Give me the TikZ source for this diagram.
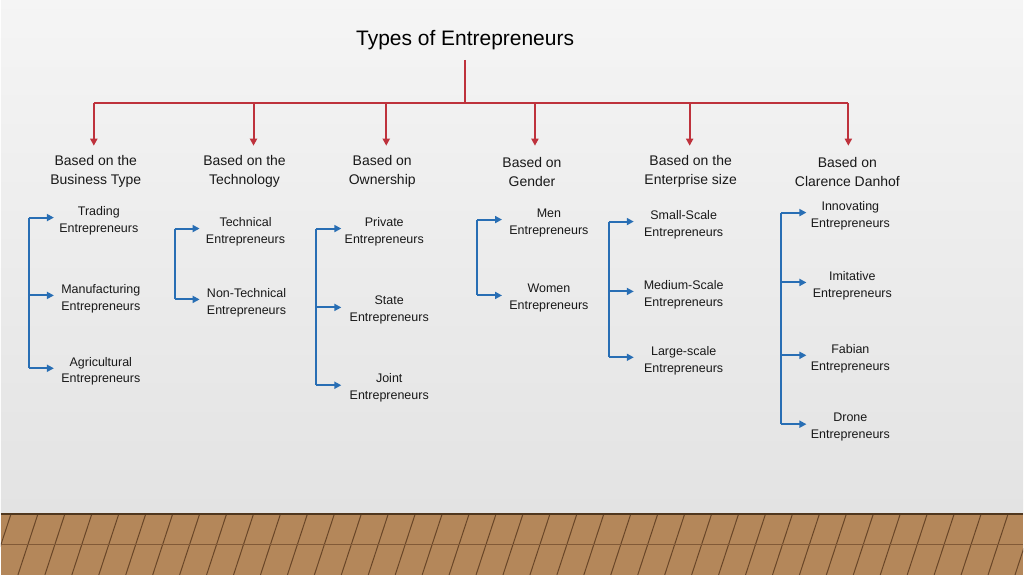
\documentclass[tikz,border=0pt]{standalone}
\usepackage{fontspec}
\setmainfont{Liberation Sans}
\usetikzlibrary{arrows.meta}
\definecolor{cred}{RGB}{190,50,60}
\definecolor{cblue}{RGB}{40,110,180}
\definecolor{wood}{RGB}{180,135,90}
\definecolor{wooddark}{RGB}{80,55,30}
\definecolor{woodline}{RGB}{105,70,40}
\definecolor{woodmid}{RGB}{130,90,55}
\begin{document}
\begin{tikzpicture}[x=1pt,y=-1pt,
  red line/.style={draw=cred,line width=2pt},
  redarr/.style={red line,-{Triangle[length=7pt,width=7pt]}},
  blue line/.style={draw=cblue,line width=2pt},
  bluearr/.style={blue line,-{Triangle[length=7pt,width=7pt]}},
  head/.style={font=\fontsize{14}{19}\selectfont,align=center,text=black!90},
  item/.style={font=\fontsize{12.5}{17}\selectfont,align=center,text=black!90},
]
\shade[top color=black!4,bottom color=black!11] (0,0) rectangle (1024,515);
\fill[wood] (0,515) rectangle (1024,576);
\begin{scope}
\clip (0,515) rectangle (1024,576);
\foreach \i in {0,...,40}{
  \draw[woodline,line width=1pt] (\i*27-10,576)--(\i*27+10,515);
}
\draw[woodmid,line width=0.8pt] (0,545)--(1024,545);
\end{scope}
\draw[wooddark,line width=2pt] (0,515)--(1024,515);
\node[font=\fontsize{21}{24}\selectfont] (title) at (465,40) {Types of Entrepreneurs};
\coordinate (tb) at (465,60);
\coordinate (tj) at (465,103);
\coordinate (hl) at (93,103);
\coordinate (hr) at (849,103);
\draw[red line] (tb)--(tj);
\draw[red line] (hl)--(hr);
\foreach \x/\n/\t in {95/h1/{Based on the\\Business Type},244/h2/{Based on the\\Technology},382/h3/{Based on\\Ownership},532/h4/{Based on\\Gender},691/h5/{Based on the\\Enterprise size},848/h6/{Based on\\Clarence Danhof}}{
  \node[head] (\n) at (\x,172) {\t};
}
\foreach \x/\n in {93/h1,253/h2,386/h3,535/h4,690/h5,849/h6}{
  \coordinate (\n top) at (\x,103);
  \draw[redarr] (\n top)--(\x,146);
}
\newcommand{\grp}[4]{%
  \coordinate (#4a) at (#1,#2); \coordinate (#4b) at (#1,#3);
  \draw[blue line] (#4a)--(#4b);}
\grp{28}{218}{369}{g1}
\grp{174}{229}{300}{g2}
\grp{316}{229}{386}{g3}
\grp{477}{220}{296}{g4}
\grp{609}{222}{358}{g5}
\grp{782}{213}{425}{g6}
\foreach \gx/\y/\lx/\n/\t in {
 28/218/98/a1/{Trading\\Entrepreneurs},
 28/296/100/a2/{Manufacturing\\Entrepreneurs},
 28/369/100/a3/{Agricultural\\Entrepreneurs},
 174/229/245/b1/{Technical\\Entrepreneurs},
 174/300/246/b2/{Non-Technical\\Entrepreneurs},
 316/229/384/c1/{Private\\Entrepreneurs},
 316/308/389/c2/{State\\Entrepreneurs},
 316/386/389/c3/{Joint\\Entrepreneurs},
 477/220/549/d1/{Men\\Entrepreneurs},
 477/296/549/d2/{Women\\Entrepreneurs},
 609/222/684/e1/{Small-Scale\\Entrepreneurs},
 609/292/684/e2/{Medium-Scale\\Entrepreneurs},
 609/358/684/e3/{Large-scale\\Entrepreneurs},
 782/213/851/f1/{Innovating\\Entrepreneurs},
 782/283/853/f2/{Imitative\\Entrepreneurs},
 782/356/851/f3/{Fabian\\Entrepreneurs},
 782/425/851/f4/{Drone\\Entrepreneurs}}{
  \node[item] (\n) at (\lx,\y+3) {\t};
  \coordinate (\n s) at (\gx,\y);
  \draw[bluearr] (\n s)--(\gx+25,\y);
}
\end{tikzpicture}
\end{document}
